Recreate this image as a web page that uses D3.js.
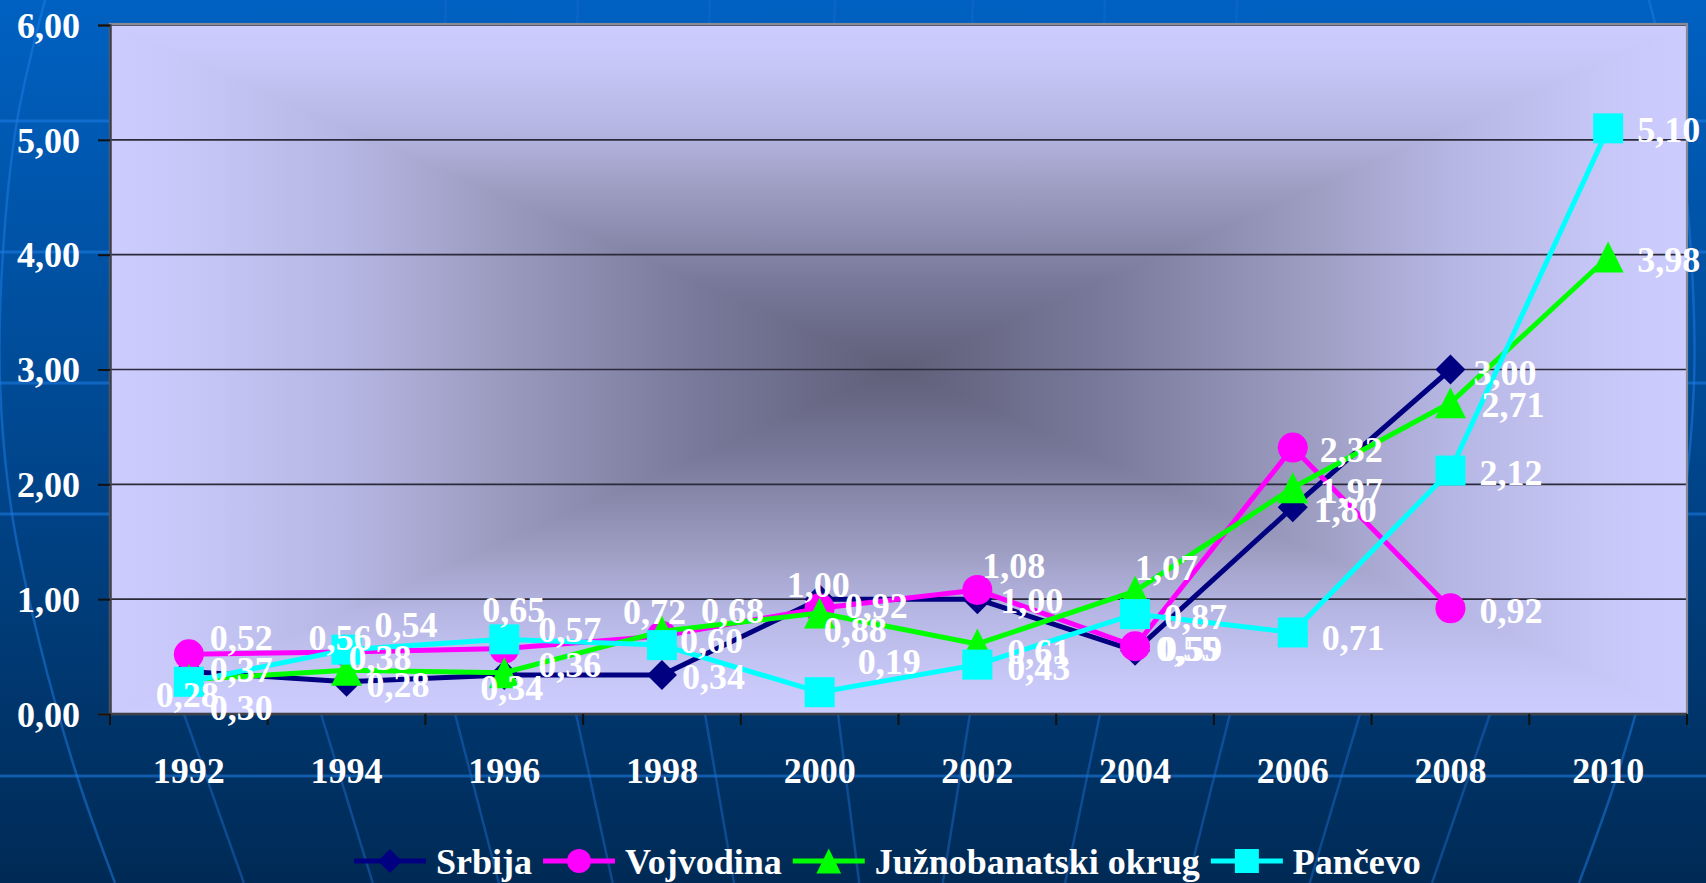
<!DOCTYPE html>
<html><head><meta charset="utf-8">
<script src="https://cdn.jsdelivr.net/npm/d3@7"></script>
<style>html,body{margin:0;padding:0;overflow:hidden;background:#00407f}</style>
</head><body>
<svg id="chart" width="1706" height="883"></svg>
<script>
// ---------- data ----------
const years = ["1992","1994","1996","1998","2000","2002","2004","2006","2008","2010"];
const srbija        = [0.37, 0.28, 0.34, 0.34, 1.00, 1.00, 0.55, 1.80, 3.00, null];
const vojvodina     = [0.52, 0.54, 0.57, 0.68, 0.92, 1.08, 0.59, 2.32, 0.92, null];
const juznobanatski = [0.30, 0.38, 0.36, 0.72, 0.88, 0.61, 1.07, 1.97, 2.71, 3.98];
const pancevo       = [0.28, 0.56, 0.65, 0.60, 0.19, 0.43, 0.87, 0.71, 2.12, 5.10];
const seriesNames = ["Srbija", "Vojvodina", "Južnobanatski okrug", "Pančevo"];
const yTicks = [0, 1, 2, 3, 4, 5, 6];

// ---------- layout / style (not data) ----------
const seriesColors = ["#000080", "#FF00FF", "#00FF00", "#00FFFF"];
const seriesMarkers = ["diamond", "circle", "triangle", "square"];
// label placement relative to the point: [dx to label's left edge, dy to label's vertical centre]
const labelShiftSrbija    = [[21,-2],[20,3],[-24,13],[20,2],[-33,-14],[23,2],[21,-2],[21,3],[23,3],[0,0]];
const labelShiftVojvodina = [[21,-16],[28,-27],[34,-19],[39,-25],[25,-2],[5,-24],[24,3],[27,2],[29,3],[0,0]];
const labelShiftJuzno     = [[21,28],[2,-12],[34,-8],[-39,-19],[4,17],[30,8],[0,-23],[27,3],[31,2],[29,3]];
const labelShiftPancevo   = [[-33,13],[-38,-12],[-22,-29],[18,-4],[38,-30],[30,3],[29,3],[29,6],[29,2],[29,2]];

const W = 1706, H = 883;
const plot = {left: 110, right: 1687, top: 25, bottom: 714};
const FONT = "'Liberation Serif','Times New Roman',serif";

const svg = d3.select("#chart");
const defs = svg.append("defs");

// ---------- slide background ----------
const bg = defs.append("linearGradient").attr("id","bgGrad").attr("x1",0).attr("y1",0).attr("x2",0).attr("y2",1);
bg.append("stop").attr("offset",0).attr("stop-color","#0061C2");
bg.append("stop").attr("offset",0.5).attr("stop-color","#00478F");
bg.append("stop").attr("offset",1).attr("stop-color","#002A55");
svg.append("rect").attr("width",W).attr("height",H).attr("fill","url(#bgGrad)");

const deco = svg.append("g").attr("fill","none");
// latitude lines
[121, 252, 383, 514, 776].forEach(yy => {
  deco.append("line").attr("x1",0).attr("x2",W).attr("y1",yy).attr("y2",yy)
    .attr("stroke","rgba(30,125,230,0.55)").attr("stroke-width",3);
});
// meridian arcs on the sides
const arcPts = [[45,0],[17,121],[3,252],[0,383],[12,514],[40,645],[77,776],[115,883]];
const curve = d3.line().curve(d3.curveCatmullRom);
deco.append("path").attr("d", curve(arcPts)).attr("stroke","rgba(30,125,230,0.5)").attr("stroke-width",2.5);
deco.append("path").attr("d", curve(arcPts.map(p => [W - 12 - p[0], p[1]])))
  .attr("stroke","rgba(30,125,230,0.5)").attr("stroke-width",2.5);
// meridians under the plot (visible in the bottom band)
const cxm = 853;
[184, 321, 455, 576, 705, 838, 970, 1100, 1230, 1360, 1490].forEach(x0 => {
  const d = cxm - x0;
  const slope = Math.sign(d) * (0.12 + 0.00035 * Math.abs(d));
  deco.append("line").attr("x1", x0 - slope*14).attr("y1", 700).attr("x2", x0 + slope*169).attr("y2", H)
    .attr("stroke","rgba(30,110,210,0.45)").attr("stroke-width",2.5);
});
[578, 710, 835, 973, 1105, 446, 1237].forEach(x0 => {
  deco.append("line").attr("x1",x0).attr("x2",x0-1).attr("y1",0).attr("y2",30)
    .attr("stroke","rgba(30,110,210,0.35)").attr("stroke-width",2.5);
});

// ---------- plot area with "from centre" rectangular gradient ----------
const pcx = (plot.left + plot.right)/2, pcy = (plot.top + plot.bottom)/2;
const profile = [[0,"#CCCCFF"],[0.12,"#C6C6F6"],[0.3,"#B6B6E4"],[0.5,"#9A9ABE"],[0.75,"#78789A"],[1,"#5F5F79"]];
function mkGrad(id, x1, y1, x2, y2) {
  const g = defs.append("linearGradient").attr("id", id).attr("gradientUnits","userSpaceOnUse")
    .attr("x1",x1).attr("y1",y1).attr("x2",x2).attr("y2",y2);
  profile.forEach(s => g.append("stop").attr("offset", s[0]).attr("stop-color", s[1]));
}
mkGrad("gTop", pcx, plot.top, pcx, pcy);
mkGrad("gBot", pcx, plot.bottom, pcx, pcy);
mkGrad("gLeft", plot.left, pcy, pcx, pcy);
mkGrad("gRight", plot.right, pcy, pcx, pcy);
const pa = svg.append("g");
const L = plot.left, R = plot.right, T = plot.top, B = plot.bottom;
pa.append("rect").attr("x",L).attr("y",T).attr("width",R-L).attr("height",B-T).attr("fill","#9A9ABE");
[["gTop",[[L,T],[R,T],[pcx,pcy]]],["gBot",[[L,B],[R,B],[pcx,pcy]]],
 ["gLeft",[[L,T],[L,B],[pcx,pcy]]],["gRight",[[R,T],[R,B],[pcx,pcy]]]].forEach(t => {
  pa.append("path").attr("d","M"+t[1].map(p=>p.join(",")).join("L")+"Z")
    .attr("fill","url(#"+t[0]+")").attr("stroke","url(#"+t[0]+")").attr("stroke-width",0.8);
});

// ---------- scales ----------
const x = d3.scaleBand().domain(years).range([plot.left, plot.right]).padding(0);
const y = d3.scaleLinear().domain([0, 6]).range([plot.bottom, plot.top]);
const cx = yr => x(yr) + x.bandwidth()/2;
const fmt = d3.formatLocale({decimal: ",", thousands: ".", grouping: [3], currency: ["",""]}).format(".2f");

// gridlines
svg.append("g").selectAll("line").data(yTicks.filter(t => t > 0)).join("line")
  .attr("x1", plot.left).attr("x2", plot.right).attr("y1", d => y(d)).attr("y2", d => y(d))
  .attr("stroke","#2a2a3a").attr("stroke-width",1.6);
// plot border
svg.append("rect").attr("x",L).attr("y",T-1).attr("width",R-L).attr("height",B-T+1)
  .attr("fill","none").attr("stroke","#8a8a96").attr("stroke-width",2.2);

// y axis
const yAxis = svg.append("g").attr("transform",`translate(${plot.left},0)`)
  .call(d3.axisLeft(y).tickValues(yTicks).tickFormat(fmt).tickSize(12).tickPadding(18));
yAxis.select(".domain").attr("stroke","#404048").attr("stroke-width",2.5);
yAxis.selectAll(".tick line").attr("stroke","#111").attr("stroke-width",2);
yAxis.selectAll(".tick text").attr("fill","#fff").attr("font-family",FONT).attr("font-weight","bold")
  .attr("font-size",36).attr("dy","0.34em");

// x axis line + ticks at category boundaries
svg.append("line").attr("x1",L).attr("x2",R).attr("y1",B).attr("y2",B).attr("stroke","#404048").attr("stroke-width",2.5);
const bounds = years.map(d => x(d)).concat([plot.right]);
svg.append("g").selectAll("line").data(bounds).join("line")
  .attr("x1", d => d).attr("x2", d => d).attr("y1", B).attr("y2", B + 11)
  .attr("stroke","#111").attr("stroke-width",2);
svg.append("g").selectAll("text").data(years).join("text")
  .attr("x", d => cx(d)).attr("y", 783).attr("text-anchor","middle")
  .attr("fill","#fff").attr("font-family",FONT).attr("font-weight","bold").attr("font-size",36)
  .text(d => d);

// ---------- markers ----------
function markerPath(type, s) {
  const h = 15 * s;
  if (type === "diamond") return `M0,${-h}L${h},0L0,${h}L${-h},0Z`;
  if (type === "square") return `M${-h},${-h}H${h}V${h}H${-h}Z`;
  if (type === "triangle") { const t = 15.5*s; return `M0,${-t}L${t},${t}L${-t},${t}Z`; }
  return d3.arc()({innerRadius:0, outerRadius:h, startAngle:0, endAngle:2*Math.PI});
}

// ---------- series ----------
const seriesValues = [srbija, vojvodina, juznobanatski, pancevo];
const labelShifts = [labelShiftSrbija, labelShiftVojvodina, labelShiftJuzno, labelShiftPancevo];
const series = seriesNames.map((name, i) => ({
  name, color: seriesColors[i], marker: seriesMarkers[i],
  points: years.map((yr, j) => ({yr, v: seriesValues[i][j], shift: labelShifts[i][j]}))
}));

const line = d3.line().defined(d => d.v != null).x(d => cx(d.yr)).y(d => y(d.v));
const gS = svg.append("g");
series.forEach(s => {
  const g = gS.append("g");
  g.append("path").attr("d", line(s.points)).attr("fill","none").attr("stroke", s.color)
    .attr("stroke-width",5).attr("stroke-linejoin","round");
  g.selectAll("path.m").data(s.points.filter(d => d.v != null)).join("path").attr("class","m")
    .attr("transform", d => `translate(${cx(d.yr)},${y(d.v)})`)
    .attr("d", markerPath(s.marker, 1)).attr("fill", s.color);
});

// data labels
const gL = svg.append("g");
series.forEach(s => {
  gL.append("g").selectAll("text").data(s.points.filter(d => d.v != null)).join("text")
    .attr("x", d => cx(d.yr) + d.shift[0])
    .attr("y", d => y(d.v) + d.shift[1] + 12)
    .attr("fill","#fff").attr("font-family",FONT).attr("font-weight","bold").attr("font-size",36)
    .text(d => fmt(d.v));
});

// ---------- legend ----------
const leg = svg.append("g");
let lx = 354; const ly = 861;
series.forEach(s => {
  const g = leg.append("g");
  g.append("line").attr("x1", lx).attr("x2", lx + 72).attr("y1", ly).attr("y2", ly)
    .attr("stroke", s.color).attr("stroke-width",5);
  g.append("path").attr("transform",`translate(${lx+36},${ly})`).attr("d", markerPath(s.marker, 0.8)).attr("fill", s.color);
  const t = g.append("text").attr("x", lx + 82).attr("y", ly + 13)
    .attr("fill","#fff").attr("font-family",FONT).attr("font-weight","bold").attr("font-size",36).text(s.name);
  lx = lx + 82 + t.node().getComputedTextLength() + 11;
});
</script>
</body></html>
